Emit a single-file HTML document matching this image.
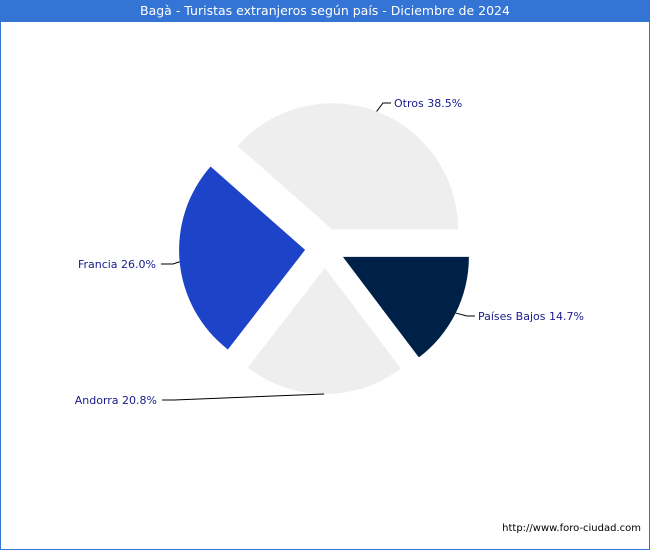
<!DOCTYPE html>
<html><head><meta charset="utf-8"><style>
body{margin:0;width:650px;height:550px;overflow:hidden;background:#fff;font-family:"DejaVu Sans","Liberation Sans",sans-serif}
#frame{position:absolute;left:0;top:0;width:648px;height:548px;border:1px solid #3474d4}
#title{position:absolute;left:0;top:0;width:650px;height:22px;background:#3474d4;color:#fff;font-size:12.5px;line-height:22px;text-align:center}
#url{position:absolute;right:9px;bottom:16px;font-size:10px;color:#000}
svg{position:absolute;left:0;top:0}
</style></head><body>
<div id="frame"></div>
<div id="title">Bagà - Turistas extranjeros según país - Diciembre de 2024</div>
<svg id="chart" width="650" height="550"></svg>
<div id="url">http://www.foro-ciudad.com</div>
<script>
const categories=["Otros","Francia","Andorra","Países Bajos"];
const values=[38.5,26.0,20.8,14.7];
const colors=["#eeeeee","#1c43c8","#eeeeee","#002147"];
const labelPos=[[394,107,"start"],[156,268,"end"],[157,404,"end"],[478,320,"start"]];
const cx=325,cy=248,r=126,off=20;
const svg=document.getElementById('chart');
const NS="http://www.w3.org/2000/svg";
const total=values.reduce((a,b)=>a+b,0);
let a0=0;
values.forEach((v,i)=>{
  const a1=a0+v/total*2*Math.PI, mid=(a0+a1)/2;
  const vx=cx+off*Math.cos(mid), vy=cy-off*Math.sin(mid);
  const x0=vx+r*Math.cos(a0), y0=vy-r*Math.sin(a0);
  const x1=vx+r*Math.cos(a1), y1=vy-r*Math.sin(a1);
  const large=(a1-a0)>Math.PI?1:0;
  const p=document.createElementNS(NS,'path');
  p.setAttribute('d',`M${vx},${vy}L${x0},${y0}A${r},${r} 0 ${large} 0 ${x1},${y1}Z`);
  p.setAttribute('fill',colors[i]);
  
  
  svg.appendChild(p);
  const ex=vx+r*Math.cos(mid), ey=vy-r*Math.sin(mid);
  const lp=labelPos[i];
  const lx=lp[2]=="start"?lp[0]-3:lp[0]+5;
  const ln=document.createElementNS(NS,'polyline');
  const kx=lp[2]=="start"?lx-8:lx+12;
  ln.setAttribute('points',`${ex},${ey} ${kx},${lp[1]-4} ${lx},${lp[1]-4}`);
  ln.setAttribute('fill','none');ln.setAttribute('stroke','#000');ln.setAttribute('stroke-width','1');
  
  
  svg.appendChild(ln);
  const t=document.createElementNS(NS,'text');
  t.setAttribute('x',lp[0]);t.setAttribute('y',lp[1]);t.setAttribute('text-anchor',lp[2]);
  t.setAttribute('font-size','11');t.setAttribute('fill','#1a1a8c');
  t.textContent=categories[i]+' '+v.toFixed(1)+'%';
  
  
  svg.appendChild(t);
  a0=a1;
});
</script>
</body></html>
